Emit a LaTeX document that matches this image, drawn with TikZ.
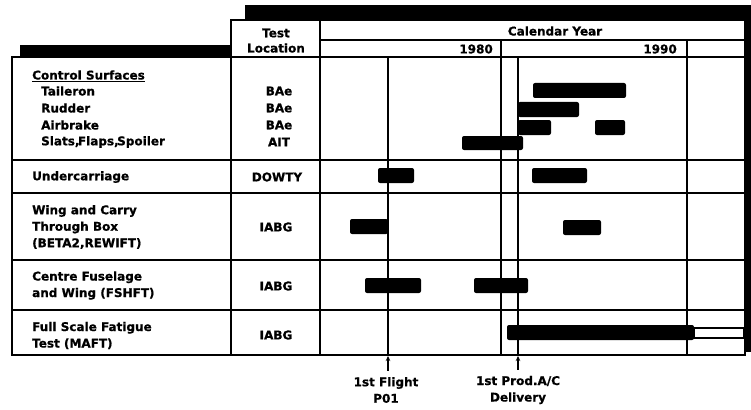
\documentclass[tikz,border=0pt]{standalone}
\usepackage{fontspec}
\setmainfont{DejaVu Sans}[BoldFeatures={FakeBold=0.8}]
\usetikzlibrary{arrows.meta}
\newcommand\lblfont{\fontsize{12}{16.5}\selectfont\bfseries}
\tikzset{
  lbl/.style={font=\lblfont, inner sep=0pt, anchor=west, align=left},
  loc/.style={font=\lblfont, inner sep=0pt, align=center},
  yr/.style={font=\lblfont, inner sep=0pt, anchor=east},
  bar/.style={fill=black, rounded corners=2pt},
  gridl/.style={line width=1.7pt},
  shadowband/.style={fill=black},
  arr/.style={line width=1.2pt, -{Stealth[length=5pt,width=4.5pt]}},
}
\begin{document}
\begin{tikzpicture}[x=1pt,y=-1pt]
\useasboundingbox (0,0) rectangle (751,409);
% shadow bands
\fill[shadowband] (20,45) rectangle (231,57);
\fill[shadowband] (245,5) rectangle (751,19);
\fill[shadowband] (744,5) rectangle (751,352);
% frames
\draw[gridl, fill=white] (12,57) rectangle (231,355);
\draw[gridl, fill=white] (231,20) rectangle (745,355);
% header lines
\draw[gridl] (320,20) -- (320,355);
\draw[gridl] (320,40) -- (745,40);
\draw[gridl] (12,57) -- (745,57);
% row lines
\foreach \yy in {160,193,260,310} { \draw[gridl] (12,\yy) -- (745,\yy); }
% vertical year dividers and milestones
\coordinate (ffTop) at (388,57);
\coordinate (ffBot) at (388,355);
\coordinate (pdTop) at (518,57);
\coordinate (pdBot) at (518,355);
\draw[gridl] (501,40) -- (501,355);
\draw[gridl] (687,40) -- (687,355);
\draw[gridl] (ffTop) -- (ffBot);
\draw[gridl] (pdTop) -- (pdBot);
% bars
\fill[bar] (533,83) rectangle (626,98);
\fill[bar] (518,102) rectangle (579,117);
\fill[bar] (518,120) rectangle (551,135);
\fill[bar] (595,120) rectangle (625,135);
\fill[bar] (462,136) rectangle (523,150);
\fill[bar] (378,168) rectangle (414,183);
\fill[bar] (532,168) rectangle (587,183);
\fill[bar] (350,219) rectangle (388,234);
\fill[bar] (563,220) rectangle (601,235);
\fill[bar] (365,278) rectangle (421,293);
\fill[bar] (474,278) rectangle (528,293);
\fill[bar] (507,325) rectangle (694,340);
\draw[line width=1.2pt, fill=white] (694,328) rectangle (744,338);
% header texts
\node[loc] (test) at (276,33) {Test};
\node[loc] (locn) at (276,48) {Location};
\node[loc] (cal) at (555,31) {Calendar Year};
\node[yr] (y80) at (493,49) {1980};
\node[yr] (y90) at (677,49) {1990};
% left column texts
\node[lbl] (cs) at (32,75) {Control Surfaces};
\draw[line width=1pt] ([yshift=-1.5pt]cs.south west) -- ([yshift=-1.5pt]cs.south east);
\node[lbl] (tl) at (41,91) {Taileron};
\node[lbl] (rd) at (41,108) {Rudder};
\node[lbl] (ab) at (41,125) {Airbrake};
\node[lbl] (sl) at (41,142) {Slats,\kern-1.5pt Flaps,\kern-1.5pt Spoiler};
\node[lbl] (uc) at (32,177) {Undercarriage};
\node[lbl] (wc) at (32,227) {Wing and Carry\\Through Box\\(BETA2,REWIFT)};
\node[lbl] (cf) at (32,285.5) {Centre Fuselage\\and Wing (FSHFT)};
\node[lbl] (fs) at (32,335.5) {Full Scale Fatigue\\Test (MAFT)};
% test locations
\node[loc] (l1) at (279,91) {BAe};
\node[loc] (l2) at (279,108) {BAe};
\node[loc] (l3) at (279,125) {BAe};
\node[loc] (l4) at (279,142) {AIT};
\node[loc] (l5) at (277,177) {DOWTY};
\node[loc] (l6) at (276,227) {IABG};
\node[loc] (l7) at (276,286) {IABG};
\node[loc] (l8) at (276,335) {IABG};
% milestones
\node[loc] (ff) at (386,390) {1st Flight\\P01};
\node[loc] (pd) at (518,390) {1st Prod.A/C\\Delivery};
\draw[arr] (ff.north -| ffBot) ++(0,-6) -- ([yshift=-1pt]ffBot);
\draw[arr] (pd.north -| pdBot) ++(0,-6) -- ([yshift=-1pt]pdBot);
\end{tikzpicture}
\end{document}
